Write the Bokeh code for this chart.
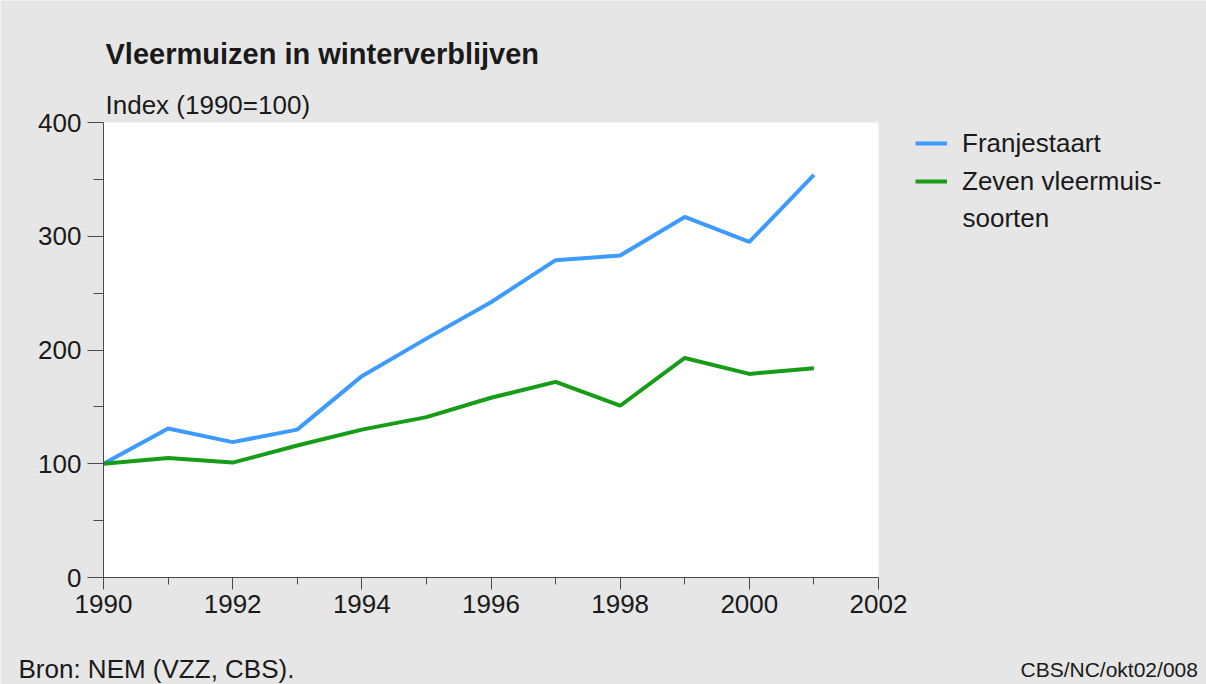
from bokeh.plotting import figure
from bokeh.models import (Range1d, FixedTicker, Label, Legend, LegendItem, BoxAnnotation)
from bokeh.embed import file_html
from bokeh.resources import INLINE

# ---- data ----
years = [1990, 1991, 1992, 1993, 1994, 1995, 1996, 1997, 1998, 1999, 2000, 2001]
franjestaart = [100, 131, 119, 130, 177, 210, 242, 279, 283, 317, 295, 354]
zeven_soorten = [100, 105, 101, 116, 130, 141, 158, 172, 151, 193, 179, 184]
x_ticks = [1990, 1992, 1994, 1996, 1998, 2000, 2002]
x_minor = [1991, 1993, 1995, 1997, 1999, 2001]
y_ticks = [0, 100, 200, 300, 400]
y_minor = [50, 150, 250, 350]
x_bounds = (1990, 2002)
y_bounds = (0, 400)

title_text = "Vleermuizen in winterverblijven"
ylab_text = "Index (1990=100)"
source_text = "Bron: NEM (VZZ, CBS)."
code_text = "CBS/NC/okt02/008"
series_names = ["Franjestaart", "Zeven vleermuis-", "soorten"]

FONT = "Liberation Sans"
TXT = "#1a1a1a"
AX = "#4a4a4a"
BG = "#e6e6e6"
BLUE = "#3d9bff"
GREEN = "#169c16"

# canvas size and pixel position of the plotting area
W, H = 1206, 684
PX_L, PX_R, PX_T, PX_B = 103, 878, 122, 577
xpp = (x_bounds[1] - x_bounds[0]) / (PX_R - PX_L)
ypp = (y_bounds[1] - y_bounds[0]) / (PX_B - PX_T)
x_range = Range1d(x_bounds[0] - PX_L * xpp, x_bounds[1] + (W - PX_R) * xpp)
y_range = Range1d(y_bounds[0] - (H - PX_B) * ypp, y_bounds[1] + PX_T * ypp)

p = figure(width=W, height=H, output_backend="svg", toolbar_location=None,
           x_range=x_range, y_range=y_range,
           min_border=0, min_border_left=0, min_border_right=0,
           min_border_top=0, min_border_bottom=0)
p.background_fill_color = BG
p.border_fill_color = BG
p.outline_line_color = None
p.xgrid.visible = False
p.ygrid.visible = False

# white plotting area
p.add_layout(BoxAnnotation(left=x_bounds[0], right=x_bounds[1], bottom=y_bounds[0],
                           top=y_bounds[1], fill_color="white", fill_alpha=1,
                           line_color=None, level="underlay"))

for ax in (p.xaxis[0], p.yaxis[0]):
    ax.axis_line_color = AX
    ax.major_tick_line_color = AX
    ax.minor_tick_line_color = AX
    ax.major_tick_in = 0
    ax.minor_tick_in = 0
    ax.major_label_text_font = FONT
    ax.major_label_text_font_size = "26px"
    ax.major_label_text_color = TXT

p.xaxis[0].ticker = FixedTicker(ticks=x_ticks, minor_ticks=x_minor)
p.xaxis[0].fixed_location = y_bounds[0]
p.xaxis[0].bounds = x_bounds
p.xaxis[0].major_tick_out = 12
p.xaxis[0].minor_tick_out = 7
p.xaxis[0].major_label_standoff = 5

p.yaxis[0].ticker = FixedTicker(ticks=y_ticks, minor_ticks=y_minor)
p.yaxis[0].fixed_location = x_bounds[0]
p.yaxis[0].bounds = y_bounds
p.yaxis[0].major_tick_out = 16
p.yaxis[0].minor_tick_out = 10
p.yaxis[0].major_label_standoff = 6

r1 = p.line(years, franjestaart, line_color=BLUE, line_width=4)
r2 = p.line(years, zeven_soorten, line_color=GREEN, line_width=4)

legend = Legend(items=[LegendItem(label=series_names[0], renderers=[r1]),
                       LegendItem(label=series_names[1], renderers=[r2])],
                location=(915, H - 199), orientation="vertical",
                background_fill_alpha=0, border_line_color=None,
                padding=0, margin=0, spacing=2,
                glyph_width=32, glyph_height=36, label_standoff=15,
                label_text_font=FONT, label_text_font_size="26px",
                label_text_color=TXT)
p.add_layout(legend)
p.add_layout(Label(x=962, y=H - 217, x_units="screen", y_units="screen",
                   text=series_names[2], text_font=FONT, text_font_size="26px",
                   text_color=TXT, text_baseline="alphabetic"))

p.add_layout(Label(x=105, y=H - 53, x_units="screen", y_units="screen", text=title_text,
                   text_font=FONT, text_font_size="29px", text_font_style="bold",
                   text_color=TXT, text_baseline="alphabetic"))
p.add_layout(Label(x=105, y=H - 104, x_units="screen", y_units="screen", text=ylab_text,
                   text_font=FONT, text_font_size="26px", text_color=TXT,
                   text_baseline="alphabetic"))
p.add_layout(Label(x=18, y=H - 668, x_units="screen", y_units="screen", text=source_text,
                   text_font=FONT, text_font_size="26px", text_color=TXT,
                   text_baseline="alphabetic"))
p.add_layout(Label(x=1020, y=H - 669, x_units="screen", y_units="screen", text=code_text,
                   text_font=FONT, text_font_size="21px", text_color=TXT,
                   text_baseline="alphabetic"))

open("out.html", "w").write(file_html(p, INLINE))
